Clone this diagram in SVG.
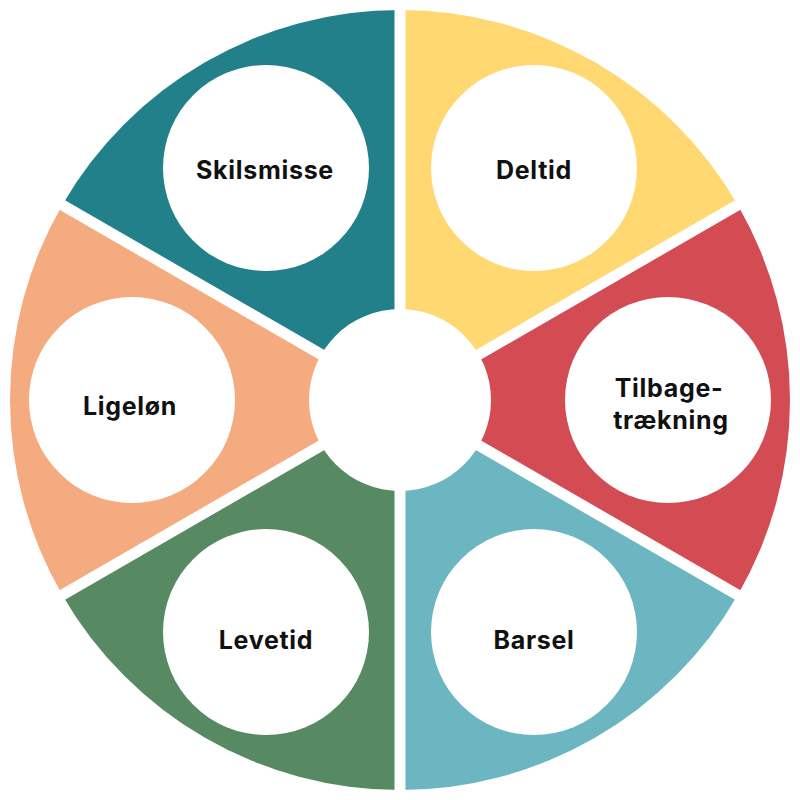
<svg xmlns="http://www.w3.org/2000/svg" width="800" height="800" viewBox="0 0 800 800">
<style>
.gap{stroke:#fff;stroke-width:11;}
.inner{fill:#fff;}
.lbl{font-family:"Inter","Lato","Liberation Sans",sans-serif;font-weight:bold;font-size:25px;letter-spacing:0.7px;fill:#111;text-anchor:middle;dominant-baseline:central;}
</style>
<rect width="800" height="800" fill="#fff"/>
<g id="sectors">
<path id="s-deltid" d="M400,400 L400,10 A390,390 0 0 1 737.75,205 Z" fill="#FFD872"/>
<path id="s-tilbage" d="M400,400 L737.75,205 A390,390 0 0 1 737.75,595 Z" fill="#D34B53"/>
<path id="s-barsel" d="M400,400 L737.75,595 A390,390 0 0 1 400,790 Z" fill="#6BB6C1"/>
<path id="s-levetid" d="M400,400 L400,790 A390,390 0 0 1 62.25,595 Z" fill="#578A62"/>
<path id="s-ligelon" d="M400,400 L62.25,595 A390,390 0 0 1 62.25,205 Z" fill="#F5AB80"/>
<path id="s-skils" d="M400,400 L62.25,205 A390,390 0 0 1 400,10 Z" fill="#21808A"/>
</g>
<g id="connectors">
<line class="gap" x1="400" y1="400" x2="400" y2="0"/>
<line class="gap" x1="400" y1="400" x2="746.4" y2="200"/>
<line class="gap" x1="400" y1="400" x2="746.4" y2="600"/>
<line class="gap" x1="400" y1="400" x2="400" y2="800"/>
<line class="gap" x1="400" y1="400" x2="53.6" y2="600"/>
<line class="gap" x1="400" y1="400" x2="53.6" y2="200"/>
</g>
<g id="hub"><circle class="inner" cx="400" cy="400" r="91"/></g>
<g id="deltid"><circle class="inner" cx="534" cy="168" r="103"/><text class="lbl" x="534" y="170">Deltid</text></g>
<g id="tilbagetraekning"><circle class="inner" cx="668" cy="400" r="103"/><text class="lbl" x="669" y="388">Tilbage-</text><text class="lbl" x="671" y="420">trækning</text></g>
<g id="barsel"><circle class="inner" cx="534" cy="632" r="103"/><text class="lbl" x="534" y="640">Barsel</text></g>
<g id="levetid"><circle class="inner" cx="266" cy="632" r="103"/><text class="lbl" x="266" y="640">Levetid</text></g>
<g id="ligelon"><circle class="inner" cx="132" cy="400" r="103"/><text class="lbl" x="130" y="406">Ligeløn</text></g>
<g id="skilsmisse"><circle class="inner" cx="266" cy="168" r="103"/><text class="lbl" x="265" y="170">Skilsmisse</text></g>
</svg>
